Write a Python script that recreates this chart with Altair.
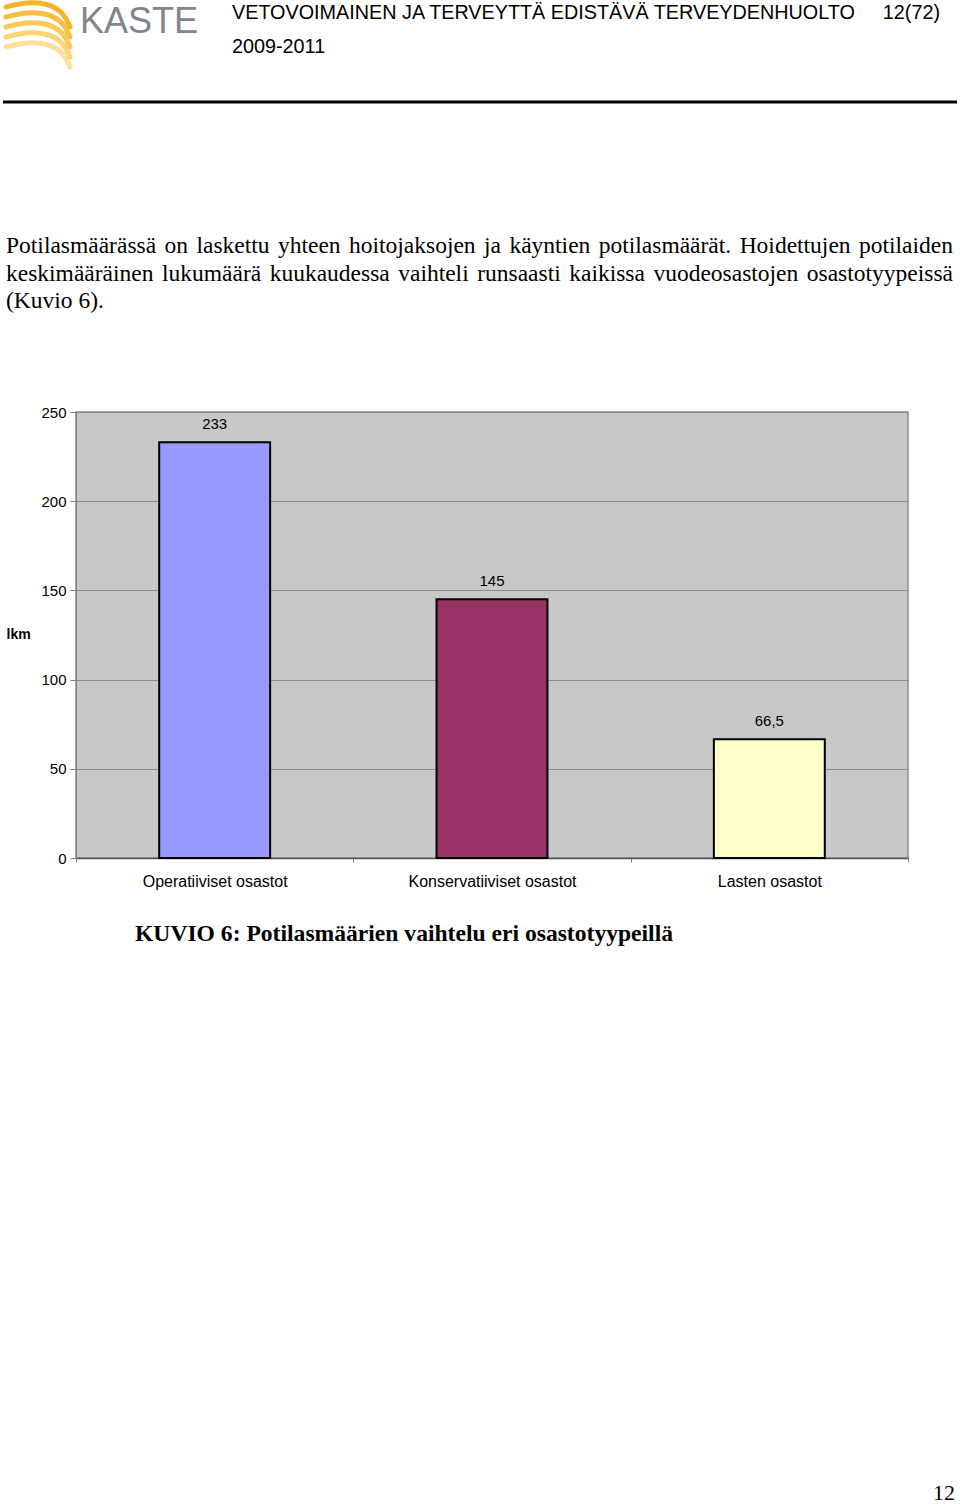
import altair as alt
import pandas as pd

categories = ["Operatiiviset osastot", "Konservatiiviset osastot", "Lasten osastot"]
values = [233, 145, 66.5]
value_labels = ["233", "145", "66,5"]
colors = ["#9999FF", "#993366", "#FFFFCC"]
y_ticks = [0, 50, 100, 150, 200, 250]

header_title = "VETOVOIMAINEN JA TERVEYTTÄ EDISTÄVÄ TERVEYDENHUOLTO"
header_page = "12(72)"
header_years = "2009-2011"
logo_text = "KASTE"
paragraph = [
    "Potilasmäärässä on laskettu yhteen hoitojaksojen ja käyntien potilasmäärät. Hoidettujen potilaiden",
    "keskimääräinen lukumäärä kuukaudessa vaihteli runsaasti kaikissa vuodeosastojen osastotyypeissä",
    "(Kuvio 6).",
]
caption = "KUVIO 6: Potilasmäärien vaihtelu eri osastotyypeillä"
page_number = "12"

df = pd.DataFrame({"cat": categories, "val": values, "lab": value_labels})

# plot origin in page coordinates
OX, OY = 76, 412
W, H = 832, 446

x_enc = alt.X("cat:N", sort=categories,
              scale=alt.Scale(paddingInner=0, paddingOuter=0),
              axis=alt.Axis(title=None, labelAngle=0, labelFontSize=16, labelColor="#000000",
                            labelFont="Liberation Sans", labelPadding=11, tickBand="extent",
                            tickSize=4, tickColor="#808080", domainColor="#555555",
                            domainWidth=1.5, grid=False))
y_enc = alt.Y("val:Q", scale=alt.Scale(domain=[0, 250], nice=False),
              axis=alt.Axis(values=y_ticks, title="lkm", titleAngle=0, titleFontSize=14,
                            titleFont="Liberation Sans", titleFontWeight="bold",
                            titleX=6 - OX, titleY=634 - OY, titleAlign="left",
                            titleBaseline="middle", labelFontSize=15, labelColor="#000000",
                            labelFont="Liberation Sans", labelPadding=4, tickSize=6,
                            tickColor="#808080", domainColor="#808080",
                            gridColor="#8c8c8c", gridWidth=1))

bars = alt.Chart(df).mark_bar(stroke="#000000", strokeWidth=2,
                              width=alt.RelativeBandSize(0.4)).encode(
    x=x_enc, y=y_enc,
    color=alt.Color("cat:N", sort=categories,
                    scale=alt.Scale(domain=categories, range=colors), legend=None),
)
labels = alt.Chart(df).mark_text(baseline="bottom", dy=-10, fontSize=15,
                                 font="Liberation Sans", color="#000000").encode(
    x=alt.X("cat:N", sort=categories), y="val:Q", text="lab:N")

one = alt.Data(values=[{}])


def txt(text, px, py, size, font="Liberation Sans", weight="normal", align="left",
        color="#000000", baseline="middle"):
    return alt.Chart(one).mark_text(align=align, baseline=baseline, fontSize=size,
                                    font=font, fontWeight=weight, color=color).encode(
        x=alt.value(px - OX), y=alt.value(py - OY), text=alt.value(text))


# Times-style advance widths (1/1000 em) for justifying the paragraph
TW = {" ": 250, "a": 444, "b": 500, "c": 444, "d": 500, "e": 444, "f": 333, "g": 500,
      "h": 500, "i": 278, "j": 278, "k": 500, "l": 278, "m": 778, "n": 500, "o": 500,
      "p": 500, "q": 500, "r": 333, "s": 389, "t": 278, "u": 500, "v": 500, "w": 722,
      "x": 500, "y": 500, "z": 444, "ä": 444, "ö": 500, "P": 556, "H": 722, "K": 722,
      "(": 333, ")": 333, ".": 250, "6": 500}


def justified(line, left, right, py, size, font="Liberation Serif"):
    words = line.split(" ")
    widths = [sum(TW.get(c, 500) for c in w) * size / 1000 for w in words]
    gap = (right - left - sum(widths)) / (len(words) - 1)
    layers = []
    xpos = left
    for w, wd in zip(words, widths):
        layers.append(txt(w, xpos, py, size, font=font))
        xpos += wd + gap
    return layers


# logo stripes (decoration)
stripe_colors = ["#F4B52C", "#F6BF42", "#F8CA5C", "#FAD574", "#FCE09A"]
stripe_rows = []
for i, col in enumerate(stripe_colors):
    y0 = 7 + i * 10
    for j, (dx, dy) in enumerate([(0, 0), (20, -5), (42, -4), (58, 6), (64, 20)]):
        stripe_rows.append({"s": i, "o": j, "px": 6 + dx - OX, "py": y0 + dy - OY})
stripes = alt.Chart(pd.DataFrame(stripe_rows)).mark_line(
    interpolate="basis", strokeWidth=5, strokeCap="round", clip=False).encode(
    x=alt.X("px:Q", scale=None, axis=None),
    y=alt.Y("py:Q", scale=None, axis=None),
    detail="s:N", order="o:Q",
    color=alt.Color("s:N", scale=alt.Scale(domain=list(range(5)), range=stripe_colors),
                    legend=None))

page = [
    txt(logo_text, 80, 33, 36, color="#7f858f", baseline="alphabetic"),
    txt(header_title, 232, 13, 19.8),
    txt(header_page, 940, 13, 19.8, align="right"),
    txt(header_years, 232, 47, 19.8),
    alt.Chart(one).mark_rule(color="#000000", strokeWidth=3).encode(
        x=alt.value(3 - OX), x2=alt.value(957 - OX), y=alt.value(102 - OY)),
    *justified(paragraph[0], 6, 953, 246, 23.5),
    *justified(paragraph[1], 6, 953, 274, 23.5),
    txt(paragraph[2], 6, 301, 23.5, font="Liberation Serif"),
    txt(caption, 135, 934, 23.6, font="Liberation Serif", weight="bold"),
    txt(page_number, 955, 1493, 22, font="Liberation Serif", align="right"),
]

chart = alt.layer(bars, labels, stripes, *page).properties(
    width=W, height=H,
    autosize=alt.AutoSizeParams(type="none"),
    padding={"left": OX, "top": OY, "right": 960 - OX - W, "bottom": 1504 - OY - H},
    background="#ffffff",
).resolve_scale(color="independent").configure_view(
    fill="#C8C8C8", stroke="#8c8c8c", strokeWidth=1.5)

chart.save("out.html", embed_options={"renderer": "svg", "actions": False})
